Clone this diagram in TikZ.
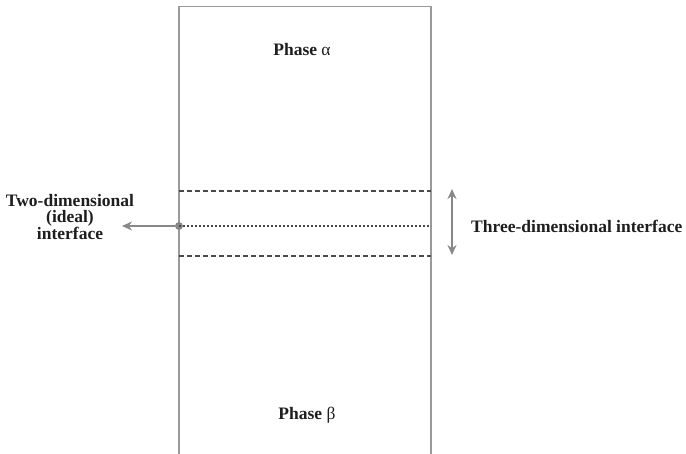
\documentclass[tikz,border=0pt]{standalone}
\usepackage{fontspec}
\setmainfont{Liberation Serif}
\usetikzlibrary{arrows.meta}
\definecolor{framegray}{HTML}{9A9A9A}
\definecolor{linegray}{HTML}{4A4A4A}
\definecolor{arrowgray}{HTML}{888888}
\definecolor{txt}{HTML}{1E1E1E}
\tikzset{
  frame/.style={draw=framegray, line width=1.7pt},
  dashline/.style={draw=linegray, line width=1.5pt, dash pattern=on 5pt off 3pt},
  dotline/.style={draw=linegray, line width=1.1pt, dash pattern=on 2pt off 2pt},
  grayarrow/.style={draw=arrowgray, line width=2.4pt, -{Stealth[length=10pt,width=9pt]}},
  dblarrow/.style={draw=arrowgray, line width=2.4pt, {Stealth[length=10pt,width=9pt]}-{Stealth[length=10pt,width=9pt]}},
  lbl/.style={text=txt, font=\fontsize{17.5}{16.5}\selectfont\bfseries, inner sep=0pt}
}
\begin{document}
\begin{tikzpicture}[x=1pt,y=-1pt]
\useasboundingbox (0,0) rectangle (686,454);
% frame (open at bottom)
\coordinate (bl) at (179,456);
\coordinate (tl) at (179,6.5);
\coordinate (tr) at (431,6.5);
\coordinate (br) at (431,456);
\draw[frame] (bl) -- (tl) -- (tr) -- (br);
% interface lines
\coordinate (d1l) at (179,191);
\coordinate (d1r) at (431,191);
\coordinate (d2l) at (179,256);
\coordinate (d2r) at (431,256);
\coordinate (mr) at (431,226);
\draw[dashline] (d1l) -- (d1r);
\draw[dashline] (d2l) -- (d2r);
\node[circle, fill=arrowgray, inner sep=0pt, minimum size=8pt] (dot) at (179,226) {};
\draw[dotline] (dot.center) -- (mr);
\coordinate (aend) at (122,226);
\draw[grayarrow] (dot) -- (aend);
\coordinate (ua) at (452,189);
\coordinate (da) at (452,255);
\draw[dblarrow] (ua) -- (da);
% labels
\node[lbl] (alpha) at (302,50) {Phase {\mdseries α}};
\node[lbl] (beta) at (307,415) {Phase {\mdseries β}};
\node[lbl, align=center] (left) at (70,217) {Two-dimensional\\(ideal)\\interface};
\node[lbl, anchor=west] (right) at (471,226) {Three-dimensional interface};
\end{tikzpicture}
\end{document}
